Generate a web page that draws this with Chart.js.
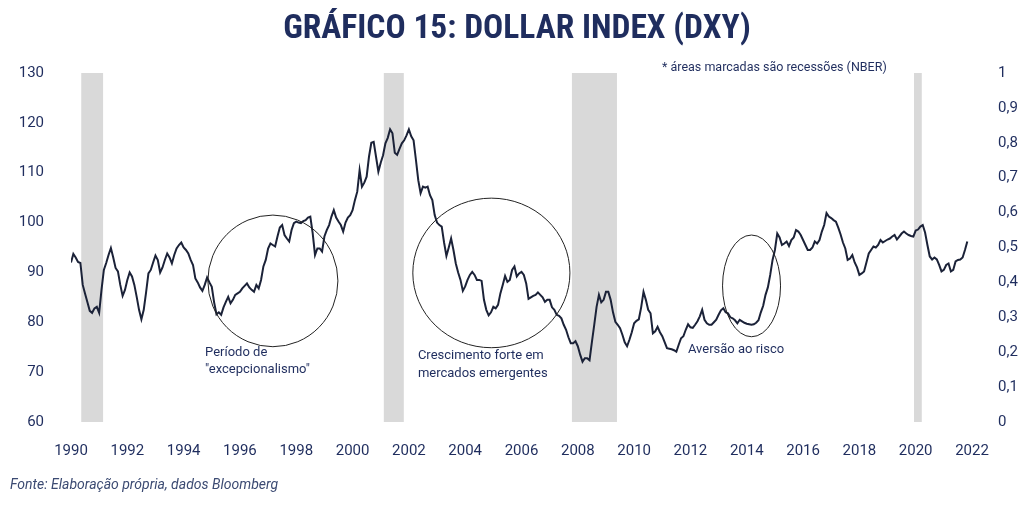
<!DOCTYPE html>
<html><head><meta charset="utf-8">
<script src="https://cdn.jsdelivr.net/npm/chart.js@4.4.1/dist/chart.umd.min.js"></script>
<style>
html,body{margin:0;padding:0;background:#fff;width:1024px;height:505px;overflow:hidden}
#wrap{position:relative;width:1024px;height:505px}
canvas{position:absolute;left:0;top:0}
#title{position:absolute;top:7px;left:0;width:1034px;text-align:center;font-weight:bold;font-size:33.5px;font-family:"Liberation Sans Narrow","Roboto Condensed",Roboto,sans-serif;color:#1f2d5e;white-space:nowrap}
#src{position:absolute;left:10px;top:476px;font-style:italic;font-size:14px;font-family:Roboto,sans-serif;color:#3b4a72;white-space:nowrap}
</style></head>
<body><div id="wrap">
<canvas id="c" width="1024" height="505"></canvas>
<div id="title">GRÁFICO 15: DOLLAR INDEX (DXY)</div>
<div id="src">Fonte: Elaboração própria, dados Bloomberg</div>
</div>
<script>
const startYear = 1990;
// Monthly DXY values, Jan 1990 - Nov 2021
const dxy1990s = [
 92.0,93.7,93.0,92.1,91.9,87.5,85.7,84.0,82.3,81.9,82.8,83.1,
 81.9,86.5,90.5,91.9,93.5,94.9,93.0,90.9,90.2,87.5,85.3,86.5,
 88.5,90.0,89.2,87.5,85.1,82.5,80.6,82.5,86.0,89.8,90.5,92.0,
 93.4,92.5,90.0,91.0,92.5,93.8,93.0,91.8,93.5,94.8,95.5,96.0,
 95.0,94.5,93.8,92.5,91.5,88.8,88.0,87.0,86.3,87.5,89.0,88.0,
 87.1,84.0,81.6,82.0,81.5,83.0,84.1,85.1,83.8,84.5,85.5,85.8,
 86.1,86.8,87.3,87.8,87.0,86.5,86.1,87.5,86.8,88.5,91.2,92.5,
 94.8,95.8,95.5,95.2,97.2,99.0,99.5,97.5,96.8,96.2,98.5,99.9,
 100.2,100.0,99.9,100.3,100.5,101.0,101.2,97.9,93.5,94.8,94.8,94.2,
 97.2,98.5,99.5,101.2,102.5,101.0,100.2,99.5,98.2,100.0,101.0,101.5
];
const dxy2000s = [
 102.5,104.5,106.2,110.5,107.2,108.0,109.2,113.2,116.0,116.2,113.2,110.2,
 112.0,113.5,115.9,117.0,118.7,117.9,114.0,113.6,114.8,115.9,116.5,117.5,
 118.7,117.3,116.5,112.6,108.5,105.9,107.2,107.0,107.2,105.5,104.5,101.5,
 100.0,99.5,99.2,96.0,93.3,95.0,96.8,94.5,91.8,90.0,88.5,86.3,
 87.2,88.5,89.5,90.1,89.5,88.5,88.5,88.3,84.5,82.5,81.4,82.0,
 83.1,82.8,83.5,85.8,87.5,89.3,88.1,88.5,90.5,91.2,89.2,89.8,
 90.1,89.5,87.8,84.7,85.0,85.3,85.5,86.0,85.5,85.0,84.1,84.5,
 84.5,83.0,82.5,81.5,81.3,80.8,79.5,78.5,77.0,75.8,75.8,76.2,
 75.2,73.5,72.1,72.8,72.8,72.4,76.0,79.5,83.1,85.5,84.0,84.5,
 86.1,86.1,84.5,82.0,80.1,79.5,78.8,77.5,76.0,75.2,76.5,78.0
];
const dxy2010s = [
 79.8,80.3,80.6,83.0,86.1,84.5,82.5,81.8,77.8,78.2,79.1,78.0,
 77.2,76.0,74.8,74.7,74.6,74.4,74.1,75.5,76.8,77.2,78.5,79.6,
 79.0,78.9,79.5,80.2,81.2,82.5,80.5,79.8,79.5,79.5,80.0,80.5,
 81.5,82.4,82.8,82.0,81.8,81.0,80.8,80.4,79.8,80.5,80.2,79.9,
 79.7,79.6,79.5,79.6,79.9,80.4,82.0,83.3,85.5,87.0,89.5,92.5,
 94.5,97.8,97.0,95.5,95.8,96.2,95.3,96.5,97.0,98.5,98.2,97.5,
 96.5,95.5,94.5,94.5,95.0,96.2,95.8,96.5,98.2,99.5,101.9,101.2,
 100.9,100.5,100.2,99.0,97.6,96.0,94.8,92.5,92.8,93.5,92.0,91.0,
 89.5,89.8,90.2,92.0,93.8,94.5,95.2,95.0,95.5,96.5,96.0,96.3,
 96.6,96.8,97.2,97.5,96.6,97.2,97.8,98.2,97.8,97.5,97.3,97.2
];
const dxy2020s = [
 98.4,98.6,99.2,99.5,98.0,95.5,93.2,92.6,93.0,92.6,91.5,90.2,
 90.5,91.5,91.8,90.2,90.5,92.2,92.5,92.6,93.0,94.5,96.2
];
// NBER recessions (decimal years, as drawn)
const recessionStart = [1990.36, 2001.11, 2007.79, 2019.94];
const recessionEnd   = [1991.14, 2001.82, 2009.39, 2020.22];
const xTickStart = 1990, xTickEnd = 2022, xTickStep = 2;
const yLeftTicks = [60, 130, 10];
const yRightTicks = [0, 1, 0.1];

const dxyAll = [].concat(dxy1990s, dxy2000s, dxy2010s, dxy2020s);
const dxyPoints = dxyAll.map((v, i) => ({x: startYear + i / 12, y: v}));
const recPoints = [];
recessionStart.forEach((s, i) => {
  const e = recessionEnd[i];
  recPoints.push({x: s, y: 0}, {x: s, y: 1}, {x: e, y: 1}, {x: e, y: 0});
});

// annotations in data coordinates
const ellipses = [
  {cx: 1997.17, cy: 88.3, rx: 2.31, ry: 13.2},
  {cx: 2004.93, cy: 89.9, rx: 2.79, ry: 15.0},
  {cx: 2014.17, cy: 87.3, rx: 1.03, ry: 10.2}
];
const notes = [
  {x: 1994.76, y: 73.8, t: 'Período de'},
  {x: 1994.76, y: 70.4, t: '"excepcionalismo"'},
  {x: 2002.32, y: 73.2, t: 'Crescimento forte em'},
  {x: 2002.32, y: 69.6, t: 'mercados emergentes'},
  {x: 2011.91, y: 74.4, t: 'Aversão ao risco'},
  {x: 2010.99, y: 131.0, t: '* áreas marcadas são recessões (NBER)', small: true}
];

const navy = '#1f2d5e';
const annot = {
  id: 'annot',
  afterDatasetsDraw(chart) {
    const {ctx, scales: {x, y}} = chart;
    ctx.save();
    ctx.strokeStyle = '#222';
    ctx.lineWidth = 1;
    ellipses.forEach(e => {
      const px = x.getPixelForValue(e.cx), py = y.getPixelForValue(e.cy);
      const rx = Math.abs(x.getPixelForValue(e.cx + e.rx) - px);
      const ry = Math.abs(y.getPixelForValue(e.cy + e.ry) - py);
      ctx.beginPath();
      ctx.ellipse(px, py, rx, ry, 0, 0, Math.PI * 2);
      ctx.stroke();
    });
    ctx.fillStyle = navy;
    ctx.textBaseline = 'middle';
    ctx.textAlign = 'left';
    notes.forEach(n => {
      ctx.font = (n.small ? '12.5px' : '13px') + ' Roboto, sans-serif';
      ctx.fillText(n.t, x.getPixelForValue(n.x), y.getPixelForValue(n.y));
    });
    ctx.restore();
  }
};

const tickFont = {family: 'Roboto, sans-serif', size: 15};
new Chart(document.getElementById('c'), {
  type: 'line',
  data: {datasets: [
    {label: 'DXY', data: dxyPoints, borderColor: '#1b2238', borderWidth: 2, pointRadius: 0, tension: 0, yAxisID: 'y', fill: false},
    {label: 'Recessões', data: recPoints, yAxisID: 'y2', fill: 'origin', backgroundColor: '#d9d9d9', borderWidth: 0, pointRadius: 0, tension: 0}
  ]},
  options: {
    responsive: false, animation: false, devicePixelRatio: 1,
    layout: {padding: {top: 73, left: 0, right: 0, bottom: 0}},
    plugins: {legend: {display: false}, tooltip: {enabled: false}},
    scales: {
      x: {type: 'linear', min: xTickStart, max: xTickEnd,
        ticks: {stepSize: xTickStep, callback: v => String(v), color: navy, font: tickFont, padding: 12, maxRotation: 0, autoSkip: false},
        grid: {display: false}, border: {display: false},
        afterFit: s => { s.height = 83; }},
      y: {position: 'left', min: yLeftTicks[0], max: yLeftTicks[1],
        ticks: {stepSize: yLeftTicks[2], color: navy, font: tickFont, padding: 19},
        grid: {display: false}, border: {display: false},
        afterFit: s => { s.width = 71; }},
      y2: {position: 'right', min: yRightTicks[0], max: yRightTicks[1],
        ticks: {stepSize: yRightTicks[2], color: navy, font: tickFont, padding: 18,
          callback: v => { const r = Math.round(v * 10) / 10; return r === 0 ? '0' : r === 1 ? '1' : r.toFixed(1).replace('.', ','); }},
        grid: {display: false}, border: {display: false},
        afterFit: s => { s.width = 52; }}
    }
  },
  plugins: [annot]
});
</script>
</body></html>
